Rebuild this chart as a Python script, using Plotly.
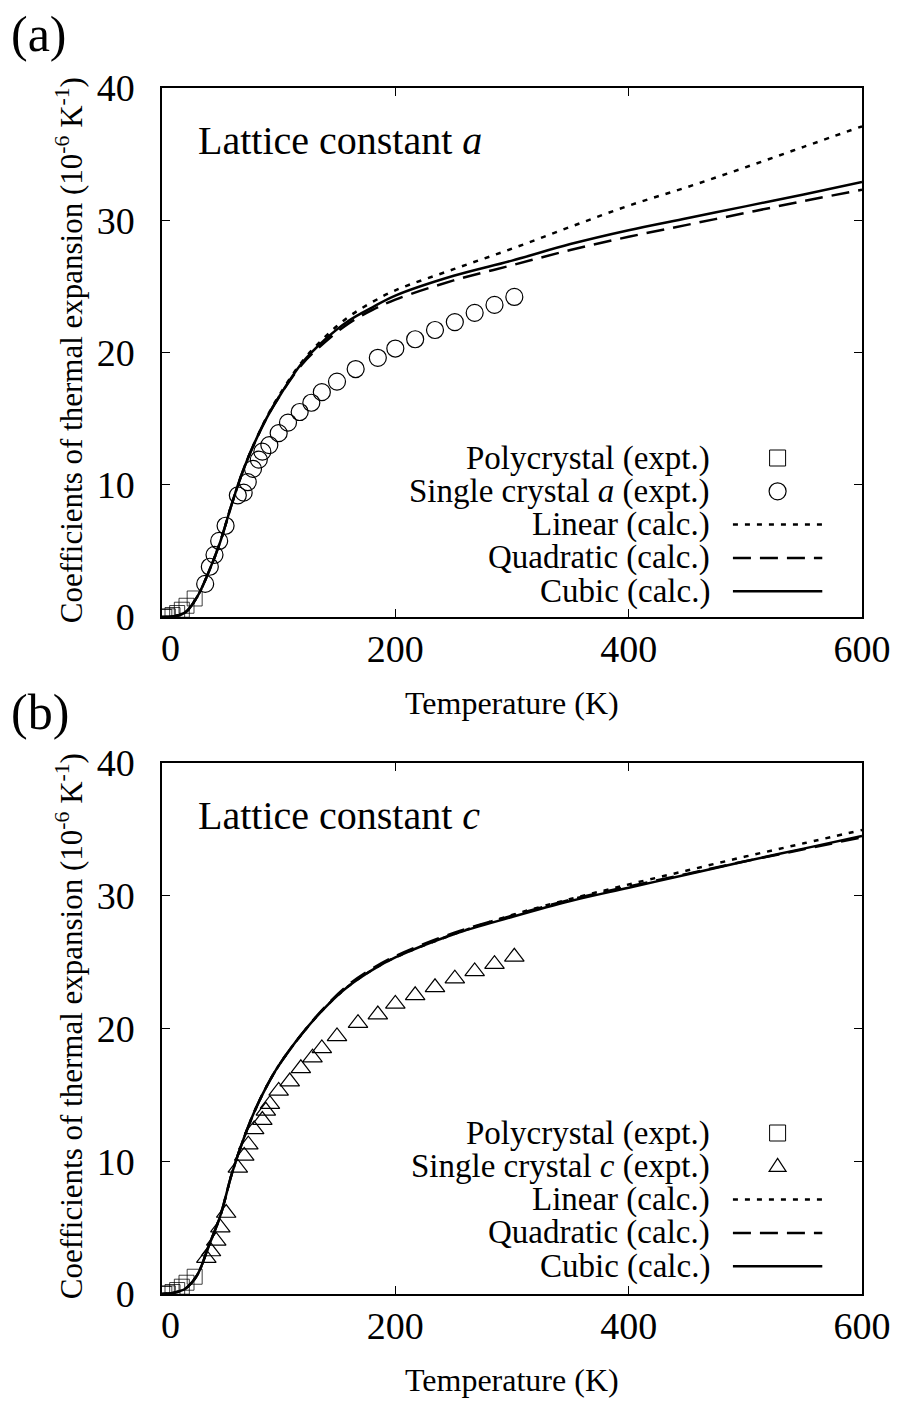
import plotly.graph_objects as go

# ---------------- data ----------------
T_poly = [2, 5, 9, 13, 17, 21, 28]
a_poly = [0.0, 0.05, 0.15, 0.3, 0.55, 0.85, 1.4]
c_poly = [0.0, 0.05, 0.15, 0.3, 0.55, 0.85, 1.3]

T_sa = [37, 41, 45, 49, 54.5, 65, 70, 73.5, 78, 83, 86, 92, 100, 108, 118, 128, 137,
        150, 166, 185, 200, 217, 234, 251, 268, 285, 302]
a_sa = [2.5, 3.8, 4.7, 5.75, 6.9, 9.2, 9.4, 10.2, 11.2, 11.9, 12.5, 13.0, 13.9, 14.7,
        15.5, 16.2, 17.0, 17.8, 18.75, 19.6, 20.3, 21.0, 21.7, 22.3, 23.0, 23.6, 24.2]

T_sc = [38, 42, 46.5, 50, 55, 65, 70.5, 74, 79, 86, 89, 92.5, 100, 109.5, 119, 129, 137,
        150, 168, 185, 200, 217, 234, 251, 268, 285, 302]
c_sc = [2.7, 3.2, 4.0, 5.0, 6.1, 9.5, 10.4, 11.25, 12.4, 13.1, 13.8, 14.3, 15.3, 16.0,
        17.0, 17.8, 18.5, 19.4, 20.4, 21.05, 21.85, 22.5, 23.1, 23.75, 24.3, 24.85, 25.4]

T_calc = [0, 10, 20, 30, 40, 50, 60, 70, 80, 90, 100, 120, 140, 160, 180, 200, 250, 300,
          350, 400, 450, 500, 550, 600]
a_lin = [0, 0.05, 0.35, 1.5, 3.4, 5.7, 8.6, 11.2, 13.3, 15.15, 16.7, 19.3, 21.2, 22.7,
         23.8, 24.7, 26.3, 27.85, 29.5, 31.1, 32.5, 34.0, 35.55, 37.1]
a_quad = [0, 0.05, 0.35, 1.5, 3.4, 5.7, 8.6, 11.2, 13.3, 15.1, 16.6, 19.1, 20.8, 22.2,
          23.2, 24.0, 25.45, 26.6, 27.75, 28.75, 29.65, 30.55, 31.45, 32.3]
a_cub = [0, 0.05, 0.35, 1.5, 3.4, 5.7, 8.6, 11.2, 13.3, 15.1, 16.6, 19.2, 21.0, 22.4,
         23.4, 24.3, 25.8, 26.95, 28.2, 29.25, 30.15, 31.05, 31.95, 32.9]

c_lin = [0, 0.1, 0.4, 1.4, 3.6, 5.9, 9.1, 11.7, 13.9, 15.7, 17.2, 19.6, 21.6, 23.2,
         24.4, 25.35, 27.1, 28.55, 29.75, 30.85, 31.9, 32.95, 33.95, 34.95]
c_quad = [0, 0.1, 0.4, 1.4, 3.6, 5.9, 9.1, 11.7, 13.9, 15.7, 17.2, 19.6, 21.65, 23.3,
          24.5, 25.45, 27.2, 28.5, 29.7, 30.7, 31.65, 32.6, 33.5, 34.4]
c_cub = [0, 0.1, 0.4, 1.4, 3.6, 5.9, 9.1, 11.7, 13.9, 15.7, 17.2, 19.6, 21.6, 23.2,
         24.4, 25.35, 27.1, 28.4, 29.6, 30.6, 31.6, 32.6, 33.55, 34.5]

x_ticks = [200, 400, 600]
y_ticks = [0, 10, 20, 30, 40]

# ---------------- layout helpers ----------------
W, H = 903, 1401
ML, MR, MT, MB = 162, 36, 88, 107
PW, PH = W - ML - MR, H - MT - MB


def px(x):
    return (x - ML) / PW


def py(y):
    return (H - MB - y) / PH


FONT = "Liberation Serif"
fig = go.Figure()

panels = [
    dict(xa="x", ya="y", poly=a_poly, sx=T_sa, sy=a_sa, sym="circle", ssize=17,
         lin=a_lin, quad=a_quad, cub=a_cub, top=88, label="(a)", lab_y=34,
         name="<i>a</i>"),
    dict(xa="x2", ya="y2", poly=c_poly, sx=T_sc, sy=c_sc, sym="triangle-up", ssize=17,
         lin=c_lin, quad=c_quad, cub=c_cub, top=763, label="(b)", lab_y=712,
         name="<i>c</i>"),
]

for p in panels:
    fig.add_trace(go.Scatter(x=T_poly, y=p["poly"], xaxis=p["xa"], yaxis=p["ya"],
                             mode="markers", showlegend=False,
                             marker=dict(symbol="square-open", size=15,
                                         color="rgba(0,0,0,0.75)", line=dict(width=1))))
    fig.add_trace(go.Scatter(x=p["sx"], y=p["sy"], xaxis=p["xa"], yaxis=p["ya"],
                             mode="markers", showlegend=False,
                             marker=dict(symbol=p["sym"] + "-open", size=p["ssize"],
                                         color="black", line=dict(width=1.2))))
    fig.add_trace(go.Scatter(x=T_calc, y=p["lin"], xaxis=p["xa"], yaxis=p["ya"],
                             mode="lines", line_shape="spline", showlegend=False,
                             line=dict(color="black", width=2.5, dash="5px,7px")))
    fig.add_trace(go.Scatter(x=T_calc, y=p["quad"], xaxis=p["xa"], yaxis=p["ya"],
                             mode="lines", line_shape="spline", showlegend=False,
                             line=dict(color="black", width=2.5, dash="18px,9px")))
    fig.add_trace(go.Scatter(x=T_calc, y=p["cub"], xaxis=p["xa"], yaxis=p["ya"],
                             mode="lines", line_shape="spline", showlegend=False,
                             line=dict(color="black", width=2.5)))

axis_common = dict(showgrid=False, zeroline=False, showline=True, linecolor="black",
                   linewidth=1.5, mirror="ticks", ticks="inside", ticklen=8,
                   tickwidth=1.2, tickcolor="black",
                   tickfont=dict(family=FONT, size=38, color="black"))

fig.update_layout(
    width=W, height=H, margin=dict(l=ML, r=MR, t=MT, b=MB),
    paper_bgcolor="white", plot_bgcolor="white", showlegend=False,
    xaxis=dict(axis_common, range=[0, 600], tickvals=x_ticks, anchor="y",
               domain=[0, 1], ticklabelstandoff=-2),
    yaxis=dict(axis_common, range=[0, 40], tickvals=y_ticks, anchor="x",
               domain=[py(617), 1], ticklabelstandoff=18),
    xaxis2=dict(axis_common, range=[0, 600], tickvals=x_ticks, anchor="y2",
                domain=[0, 1], ticklabelstandoff=-2),
    yaxis2=dict(axis_common, range=[0, 40], tickvals=y_ticks, anchor="x2",
                domain=[0, py(763)], ticklabelstandoff=18),
)

ann = []
shapes = []
legend_rows = ["Polycrystal (expt.)", None, "Linear (calc.)", "Quadratic (calc.)",
               "Cubic (calc.)"]
for i, p in enumerate(panels):
    top = p["top"]
    bottom = 617 if i == 0 else 1294
    mid = (top + bottom) / 2
    # panel label
    ann.append(dict(text=p["label"], x=px(8), y=py(p["lab_y"]), xanchor="left",
                    yanchor="middle", font=dict(size=50)))
    # zero label on x axis
    ann.append(dict(text="0", x=px(171), y=py(bottom + 8), xanchor="center",
                    yanchor="top", font=dict(size=38)))
    # x title
    ann.append(dict(text="Temperature (K)", x=px(514), y=py(bottom + 86),
                    xanchor="center", yanchor="middle", font=dict(size=32)))
    # y title
    ann.append(dict(text="Coefficients of thermal expansion (10<sup>-6</sup> K<sup>-1</sup>)",
                    x=px(69), y=py(mid - 2), xanchor="center", yanchor="middle",
                    textangle=-90, font=dict(size=31)))
    # inner label
    ann.append(dict(text="Lattice constant " + p["name"], x=px(196), y=py(top + 52),
                    xanchor="left", yanchor="middle", font=dict(size=40)))
    # legend
    rows = list(legend_rows)
    rows[1] = "Single crystal " + p["name"] + " (expt.)"
    for k, txt in enumerate(rows):
        yy = top + 370 + 33.3 * k
        ann.append(dict(text=txt, x=px(716), y=py(yy), xanchor="right",
                        yanchor="middle", font=dict(size=33)))
    # legend samples
    y0 = top + 370
    shapes.append(dict(type="rect", xref="paper", yref="paper", xsizemode="pixel",
                       ysizemode="pixel", xanchor=px(782), yanchor=py(y0),
                       x0=-8, x1=8, y0=-8, y1=8, line=dict(color="black", width=1)))
    y1 = top + 370 + 33.3
    if i == 0:
        shapes.append(dict(type="circle", xref="paper", yref="paper", xsizemode="pixel",
                           ysizemode="pixel", xanchor=px(782), yanchor=py(y1),
                           x0=-8.5, x1=8.5, y0=-8.5, y1=8.5,
                           line=dict(color="black", width=1.2)))
    else:
        shapes.append(dict(type="path", xref="paper", yref="paper", xsizemode="pixel",
                           ysizemode="pixel", xanchor=px(782), yanchor=py(y1),
                           path="M -8.5,-5 L 8.5,-5 L 0,8 Z",
                           line=dict(color="black", width=1.2)))
    for k, dash in zip([2, 3, 4], ["5px,7px", "18px,9px", "solid"]):
        yy = top + 370 + 33.3 * k
        shapes.append(dict(type="line", xref="paper", yref="paper",
                           x0=px(737), x1=px(827), y0=py(yy), y1=py(yy),
                           line=dict(color="black", width=2.5, dash=dash)))

for a in ann:
    a.update(xref="paper", yref="paper", showarrow=False)
    a["font"] = dict(family=FONT, color="black", size=a["font"]["size"])

fig.update_layout(annotations=ann, shapes=shapes)
fig.write_html("out.html")
